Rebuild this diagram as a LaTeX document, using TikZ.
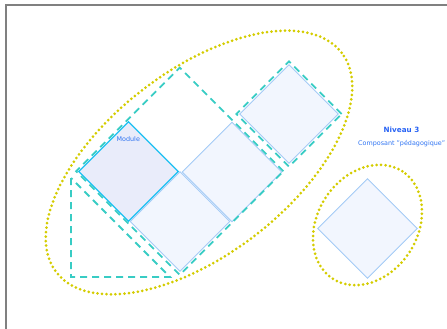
\documentclass[tikz,border=0pt]{standalone}
\usepackage{fontspec}
\setmainfont{DejaVu Sans}
\usetikzlibrary{shapes.geometric}
\definecolor{tilefill}{HTML}{F2F6FE}
\definecolor{tileline}{HTML}{A4CBF6}
\definecolor{modfill}{HTML}{E9ECFA}
\definecolor{modline}{HTML}{1CC0F2}
\definecolor{guideteal}{HTML}{38CCC4}
\definecolor{zoneyellow}{HTML}{D4CC00}
\definecolor{textblue}{HTML}{2F74F2}

\begin{document}
\begin{tikzpicture}[x=1pt, y=-1pt,
  every node/.style={font=\fontsize{6.4}{7.5}\selectfont},
  tile/.style={diamond, draw=tileline, fill=tilefill, line width=0.9pt, inner sep=0pt,
    minimum width=100pt, minimum height=100pt},
  guide/.style={draw=guideteal, line width=1.8pt, dash pattern=on 7pt off 5pt},
  zone/.style={ellipse, draw=zoneyellow, line width=3pt, line cap=round,
    dash pattern=on 0pt off 4.5pt, inner sep=0pt}]
  \useasboundingbox (0,0) rectangle (447,329);
  % frame
  \draw[black!50, line width=1.6pt] (447,5) -- (6,5) -- (6,329);
  % tiles
  \node[tile] (tileB) at (180,221.5) {};
  \node[tile] (tileC) at (232,172) {};
  \node[tile, minimum width=99pt, minimum height=99pt] (tileD) at (289,114) {};
  \node[tile, draw=modline, fill=modfill, line width=1.1pt] (module) at (128.5,171.5) {};
  \node[tile] (tileE) at (367.5,228.5) {};
  % dashed outlines
  \node[guide, diamond, inner sep=0pt, minimum width=208pt, minimum height=208pt] (block) at (179.75,171.25) {};
  \node[guide, diamond, inner sep=0pt, minimum width=106pt, minimum height=106pt] (blockD) at (289,114) {};
  \coordinate (triA) at (71,178);
  \coordinate (triB) at (71,277);
  \coordinate (triC) at (170,277);
  \draw[guide] (triA) -- (triB) -- (triC) -- cycle;
  % groups
  \node[zone, minimum width=360pt, minimum height=184pt, rotate=37.6] (group) at (199,162.5) {};
  \node[zone, minimum width=128pt, minimum height=100pt, rotate=57] (single) at (367.5,225) {};
  % labels
  \node[text=textblue] (modlbl) at (128.3,139.3) {Module};
  \node[text=textblue!85!blue, font=\fontsize{7.2}{8.5}\selectfont\bfseries] (level) at (401.5,130) {Niveau 3};
  \node[text=textblue] (kind) at (401.7,143.3) {Composant "pédagogique"};
\end{tikzpicture}
\end{document}
